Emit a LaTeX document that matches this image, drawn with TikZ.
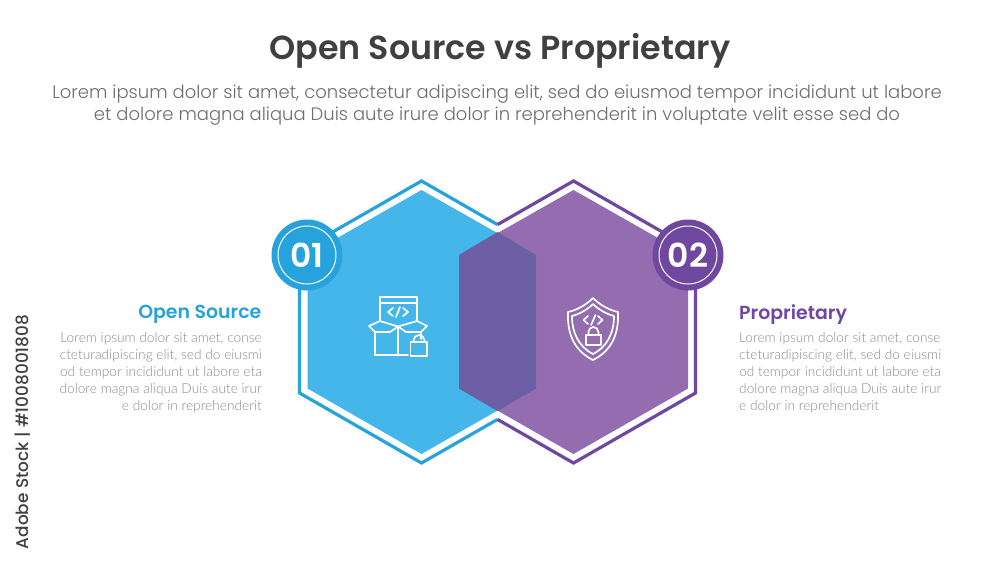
\documentclass[tikz,border=0pt]{standalone}
\usepackage{fontspec}
\setmainfont{Lato}
\newfontfamily\popmed{Poppins Medium}
\newfontfamily\popsemi{Poppins SemiBold}
\newfontfamily\poplight{Poppins Light}
\newfontfamily\latolight{Lato Light}
\definecolor{blueline}{HTML}{26A3DD}
\definecolor{bluefill}{HTML}{45B6EA}
\definecolor{purpleline}{HTML}{6F479F}
\definecolor{purplefill}{HTML}{936DB0}
\definecolor{overlapfill}{HTML}{6C5FA6}
\definecolor{titlegrey}{HTML}{404040}
\definecolor{subgrey}{HTML}{6E6E6E}
\definecolor{bodygrey}{HTML}{8A8A8A}
\begin{document}
\begin{tikzpicture}[x=1pt,y=-1pt,
  hexline/.style={line width=3.2pt,miter limit=10,line join=miter},
  badge/.style={circle,minimum size=71pt,inner sep=0pt},
  ring/.style={circle,draw=white,line width=1pt,minimum size=58pt,inner sep=0pt},
  num/.style={font=\popsemi\fontsize{33}{33}\selectfont,text=white,inner sep=0pt},
  icon/.style={draw=white,line width=1.7pt,line join=round,line cap=round},
  heading/.style={font=\popsemi\fontsize{18.9}{21}\selectfont,inner sep=0pt},
  body/.style={font=\latolight\fontsize{13.7}{16.9}\selectfont,text=bodygrey,inner sep=0pt}]
\useasboundingbox (0,0) rectangle (1000,563);
\fill[white] (0,0) rectangle (1000,563);
% hexagon outlines
\draw[hexline,blueline] (497.5,224.6) -- (421.5,181) -- (299.5,251) -- (299.5,393) -- (421.5,463) -- (497.5,419.4);
\draw[hexline,purpleline] (497.5,224.6) -- (573.5,181) -- (695.5,251) -- (695.5,393) -- (573.5,463) -- (497.5,419.4);
% fills
\fill[bluefill] (421.5,190) -- (536,255) -- (536,388.5) -- (421.5,454) -- (307.5,388.5) -- (307.5,255) -- cycle;
\fill[purplefill] (573.5,190) -- (688,255) -- (688,388.5) -- (573.5,454) -- (459,388.5) -- (459,255) -- cycle;
\fill[overlapfill] (497.5,232) -- (536,255) -- (536,388.5) -- (497.5,411) -- (459,388.5) -- (459,255) -- cycle;
% badges
\node[badge,fill=blueline] (b1) at (307,255) {};
\node[ring] (r1) at (b1) {};
\node[num] at (b1) {01};
\node[badge,fill=purpleline] (b2) at (688,255) {};
\node[ring] (r2) at (b2) {};
\node[num] at (b2) {02};
% box icon
\begin{scope}[shift={(350,280)}]
\draw[icon] (30,41) -- (30,17) -- (67,17) -- (67,41);
\draw[icon] (30,23) -- (67,23);
\draw[icon] (43,28) -- (38,32) -- (43,36);
\draw[icon] (53,28) -- (58,32) -- (53,36);
\draw[icon] (50,27) -- (46,37);
\draw[icon] (30,41) -- (19,46) -- (25,52) -- (40,52) -- (48,46.5) -- (56,52) -- (71,52) -- (77,46) -- (67,41);
\draw[icon] (30,41) -- (48,46.5) -- (67,41);
\draw[icon] (25,52) -- (25,75) -- (58,75);
\draw[icon] (48,46.5) -- (48,75);
\draw[icon] (71,52) -- (71,59);
\draw[icon] (60.5,62) rectangle (77,76);
\draw[icon] (63.5,62) -- (63.5,60.5) arc[start angle=180,end angle=360,radius=5.5];
\end{scope}
% shield icon
\begin{scope}[shift={(550,285)}]
\draw[icon] (43,13) .. controls (50,20) and (59,25) .. (68,27) .. controls (69,50) and (61,66) .. (43,75) .. controls (25,66) and (17,50) .. (18,27) .. controls (27,25) and (36,20) .. (43,13);
\draw[icon] (43,19) .. controls (48,24) and (56,29) .. (64,31) .. controls (64,48) and (57,62) .. (43,69) .. controls (29,62) and (22,48) .. (22,31) .. controls (30,29) and (38,24) .. (43,19);
\draw[icon] (38,31) -- (33.5,35) -- (38,39);
\draw[icon] (48,31) -- (52.5,35) -- (48,39);
\draw[icon] (45.5,30) -- (41,40);
\draw[icon] (35.7,50) rectangle (51,60);
\draw[icon] (38.4,50) -- (38.4,47) arc[start angle=180,end angle=360,radius=5] -- (48.4,50);
\end{scope}
% text
\node[font=\popsemi\fontsize{33.3}{36}\selectfont,text=titlegrey,inner sep=0pt] (title) at (500,51) {Open Source vs Proprietary};
\node[font=\poplight\fontsize{18}{23}\selectfont,text=subgrey,inner sep=0pt] (s1) at (497,94.5) {Lorem ipsum dolor sit amet, consectetur adipiscing elit, sed do eiusmod tempor incididunt ut labore};
\node[font=\poplight\fontsize{18}{23}\selectfont,text=subgrey,inner sep=0pt] (s2) at (497,116.5) {et dolore magna aliqua Duis aute irure dolor in reprehenderit in voluptate velit esse sed do};
\node[heading,text=blueline,anchor=east] (h1) at (261.5,314.5) {Open Source};
\node[heading,text=purpleline,anchor=west] (h2) at (739,314.5) {Proprietary};
\node[body,anchor=north east,align=right] (t1) at (262,332.5) {Lorem ipsum dolor sit amet, conse\\cteturadipiscing elit, sed do eiusmi\\od tempor incididunt ut labore eta\\dolore magna aliqua Duis aute irur\\e dolor in reprehenderit};
\node[body,anchor=north west,align=left] (t2) at (739,332.5) {Lorem ipsum dolor sit amet, conse\\cteturadipiscing elit, sed do eiusmi\\od tempor incididunt ut labore eta\\dolore magna aliqua Duis aute irur\\e dolor in reprehenderit};
\node[font=\popmed\fontsize{16.9}{18}\selectfont,text=titlegrey,rotate=90,inner sep=0pt] (stock) at (23,432) {Adobe Stock | \#1008001808};
\end{tikzpicture}
\end{document}
